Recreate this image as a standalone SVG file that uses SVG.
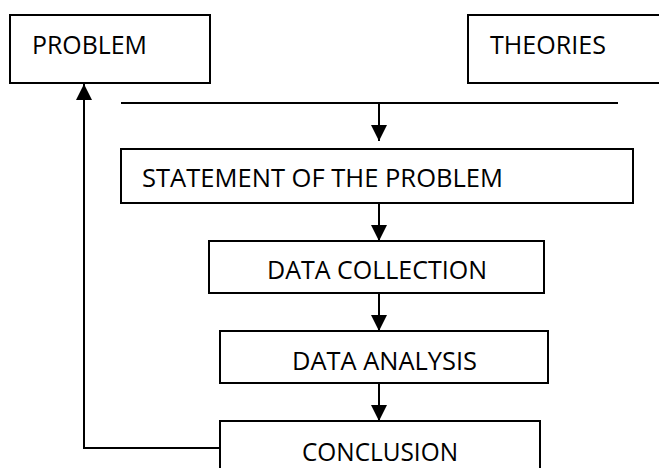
<svg xmlns="http://www.w3.org/2000/svg" width="659" height="468" viewBox="0 0 659 468">
<style>
.box{fill:#fff;stroke:#000;stroke-width:2}
.lbl{font-family:"Open Sans","Liberation Sans",sans-serif;font-size:26px;fill:#000}
.conn{fill:none;stroke:#000;stroke-width:2}
</style>
<defs>
<marker id="ah" markerUnits="userSpaceOnUse" markerWidth="16" markerHeight="16" viewBox="0 0 16 16" refX="16" refY="8" orient="auto">
<polygon points="0,0 16,8 0,16" fill="#000"/>
</marker>
</defs>
<rect width="659" height="468" fill="#fff"/>
<g id="problem">
<rect class="box" x="10" y="15" width="200" height="68"/>
<text class="lbl" x="32" y="54" textLength="115" lengthAdjust="spacingAndGlyphs">PROBLEM</text>
</g>
<g id="theories">
<rect class="box" x="468" y="15" width="200" height="68"/>
<text class="lbl" x="490" y="54" textLength="116" lengthAdjust="spacingAndGlyphs">THEORIES</text>
</g>
<g id="statement">
<rect class="box" x="121" y="149" width="512" height="54"/>
<text class="lbl" x="142" y="187" textLength="361" lengthAdjust="spacingAndGlyphs">STATEMENT OF THE PROBLEM</text>
</g>
<g id="collection">
<rect class="box" x="209" y="241" width="335" height="52"/>
<text class="lbl" x="267" y="279" textLength="220" lengthAdjust="spacingAndGlyphs">DATA COLLECTION</text>
</g>
<g id="analysis">
<rect class="box" x="220" y="331" width="328" height="52"/>
<text class="lbl" x="292" y="370" textLength="185" lengthAdjust="spacingAndGlyphs">DATA ANALYSIS</text>
</g>
<g id="conclusion">
<rect class="box" x="220" y="421" width="320" height="60"/>
<text class="lbl" x="302" y="461" textLength="156" lengthAdjust="spacingAndGlyphs">CONCLUSION</text>
</g>
<g id="connectors">
<line class="conn" x1="121" y1="103" x2="618" y2="103"/>
<line class="conn" x1="379" y1="103" x2="379" y2="141" marker-end="url(#ah)"/>
<line class="conn" x1="379" y1="203" x2="379" y2="241" marker-end="url(#ah)"/>
<line class="conn" x1="379" y1="293" x2="379" y2="331" marker-end="url(#ah)"/>
<line class="conn" x1="379" y1="383" x2="379" y2="421" marker-end="url(#ah)"/>
<polyline class="conn" points="219,448 84,448 84,84" marker-end="url(#ah)"/>
</g>
</svg>
